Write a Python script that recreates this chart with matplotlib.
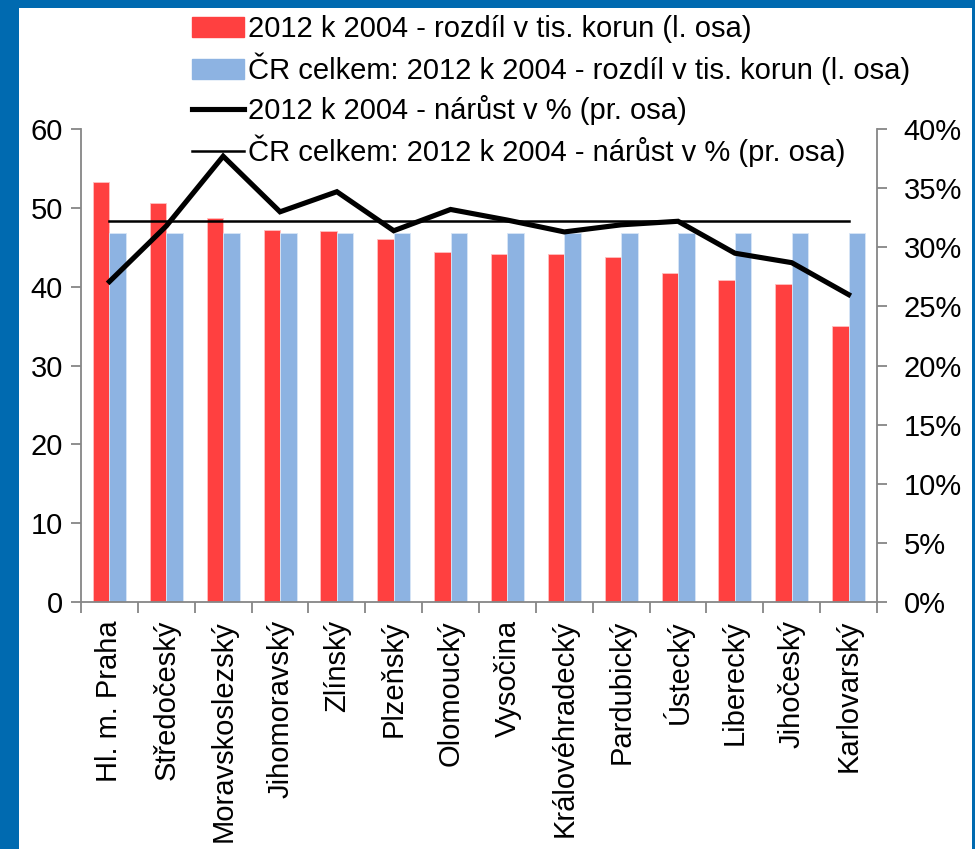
import numpy as np
import matplotlib.pyplot as plt
from matplotlib.patches import Rectangle, Patch
from matplotlib.lines import Line2D
from matplotlib.ticker import PercentFormatter

plt.rcParams['font.family'] = ['Liberation Sans Narrow', 'Liberation Sans', 'DejaVu Sans']

# regions
regions = ['Hl. m. Praha', 'Středočeský', 'Moravskoslezský', 'Jihomoravský', 'Zlínský',
           'Plzeňský', 'Olomoucký', 'Vysočina', 'Královéhradecký', 'Pardubický',
           'Ústecký', 'Liberecký', 'Jihočeský', 'Karlovarský']

# difference 2012 vs 2004 in thousands CZK (left axis)
diff_region = [53.3, 50.6, 48.7, 47.2, 47.1, 46.0, 44.4, 44.2, 44.1, 43.8, 41.7, 40.9, 40.4, 35.0]
diff_cr = [46.8] * 14

# growth 2012 vs 2004 in % (right axis)
growth_region = [27.1, 31.8, 37.7, 33.0, 34.7, 31.4, 33.2, 32.3, 31.3, 31.9, 32.2, 29.5, 28.7, 26.0]
growth_cr = [32.2] * 14

red = '#FF4040'
blue = '#8DB3E2'
grey = '#868686'
fs = 21

fig = plt.figure(figsize=(9.75, 8.49), dpi=100)

# blue frame around the picture
fig.patches.append(Rectangle((0, 0), 1, 1, transform=fig.transFigure,
                             facecolor='#006AB0', edgecolor='none', zorder=-10))
fig.patches.append(Rectangle((19 / 975, 0), (972 - 19) / 975, 1 - 8 / 849,
                             transform=fig.transFigure, facecolor='white',
                             edgecolor='none', zorder=-9))

ax = fig.add_axes([0.0831, 0.2909, 0.8164, 0.5571])
ax.patch.set_alpha(0)
x = np.arange(len(regions))
w = 0.29
ax.bar(x - w / 2, diff_region, w, color=red, edgecolor='#FFC0C0', linewidth=0.6)
ax.bar(x + w / 2, diff_cr, w, color=blue, edgecolor='#D8E6F6', linewidth=0.6)

ax.set_xlim(-0.5, len(regions) - 0.5)
ax.set_ylim(0, 60)
ax.set_yticks(range(0, 61, 10))
ax.set_xticks(x)
ax.set_xticklabels(regions, rotation=90)
ax.set_xticks(np.arange(-0.5, len(regions)), minor=True)
ax.tick_params(axis='x', which='major', length=0, pad=13)
ax.tick_params(axis='x', which='minor', length=8, color=grey, width=1.3)
ax.tick_params(axis='y', length=7, color=grey, width=1.3, pad=6)
ax.tick_params(labelsize=fs)
for s in ['top', 'right']:
    ax.spines[s].set_visible(False)
for s in ['left', 'bottom']:
    ax.spines[s].set_color(grey)
    ax.spines[s].set_linewidth(1.3)

ax2 = ax.twinx()
ax2.plot(x, growth_region, color='black', linewidth=3.7, solid_joinstyle='miter')
ax2.plot(x, growth_cr, color='black', linewidth=1.8)
ax2.set_ylim(0, 40)
ax2.set_yticks(range(0, 41, 5))
ax2.yaxis.set_major_formatter(PercentFormatter(decimals=0))
ax2.tick_params(axis='y', length=7, color=grey, width=1.3, labelsize=fs, pad=12)
for s in ['top', 'left', 'bottom']:
    ax2.spines[s].set_visible(False)
ax2.spines['right'].set_color(grey)
ax2.spines['right'].set_linewidth(1.3)

handles = [Patch(color=red), Patch(color=blue),
           Line2D([], [], color='black', linewidth=3.7),
           Line2D([], [], color='black', linewidth=1.8)]
labels = ['2012 k 2004 - rozdíl v tis. korun (l. osa)',
          'ČR celkem: 2012 k 2004 - rozdíl v tis. korun (l. osa)',
          '2012 k 2004 - nárůst v % (pr. osa)',
          'ČR celkem: 2012 k 2004 - nárůst v % (pr. osa)']
fig.legend(handles, labels, loc='upper left', bbox_to_anchor=(192 / 975, 1 - 15 / 849),
           frameon=False, fontsize=fs, handlelength=1.78, handletextpad=0.15,
           labelspacing=0.33, borderpad=0, borderaxespad=0)

fig.savefig('out.png', dpi=100)
